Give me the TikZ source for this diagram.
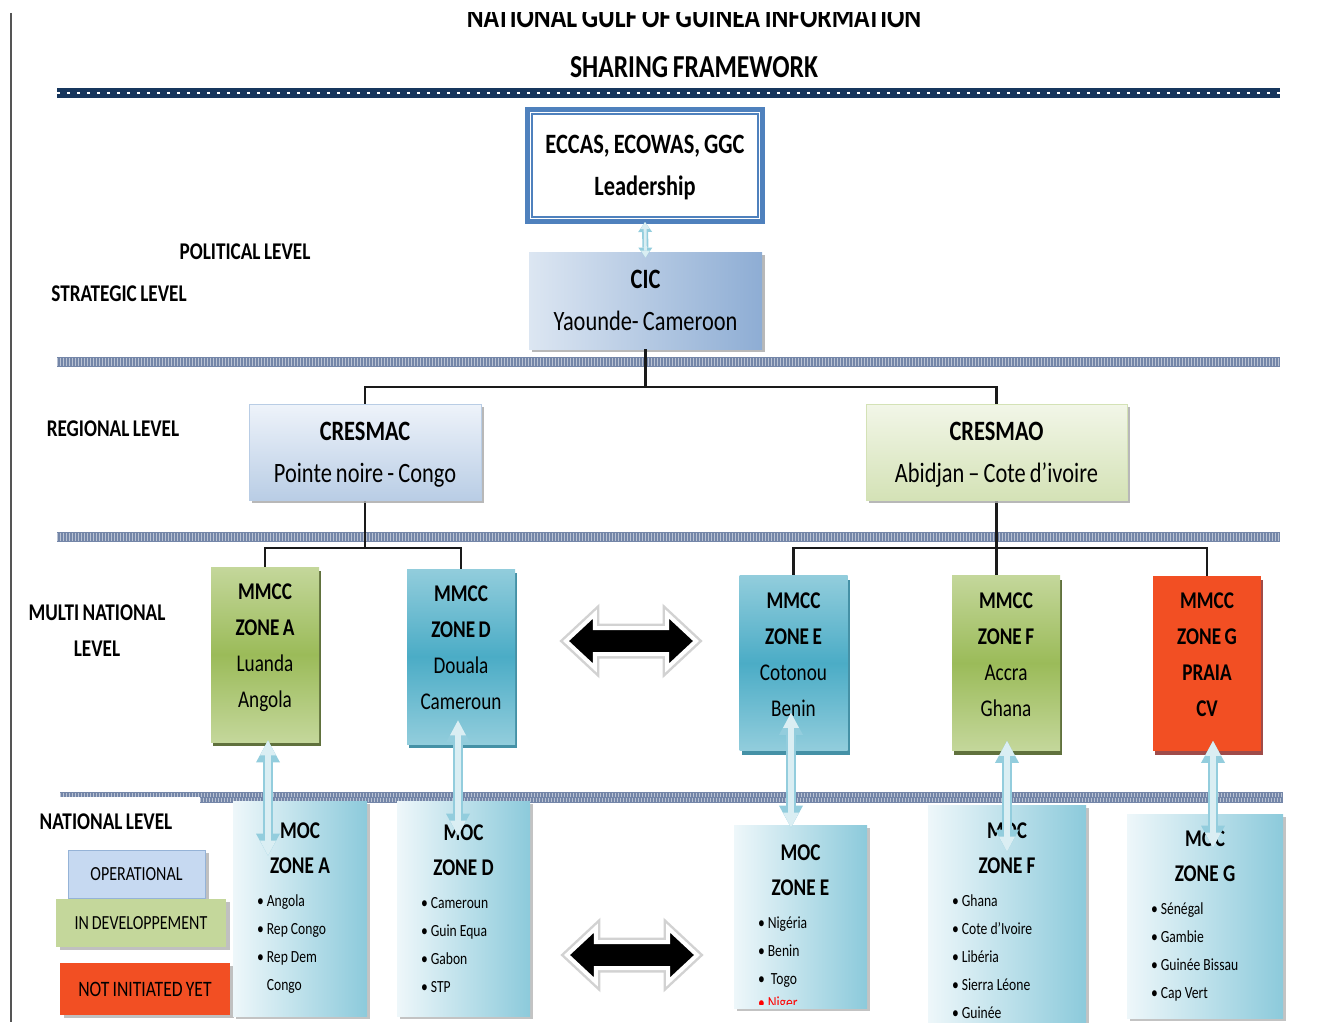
\documentclass[tikz,border=0pt]{standalone}
\usepackage{fontspec}
\setmainfont[FakeStretch=0.8, WordSpace=0.8]{Carlito}
\usetikzlibrary{arrows.meta, shapes.arrows, shadows, calc}
\definecolor{bandnavy}{HTML}{17365D}
\definecolor{bandgray}{HTML}{7486A8}
\definecolor{leadblue}{HTML}{4F81BD}
\definecolor{cicleft}{HTML}{DCE6F2}
\definecolor{cicright}{HTML}{8EADD4}
\definecolor{cresmactop}{HTML}{EEF3FA}
\definecolor{cresmacbot}{HTML}{B9CDE5}
\definecolor{cresmaotop}{HTML}{F2F6E8}
\definecolor{cresmaobot}{HTML}{D4E2B6}
\definecolor{greenlight}{HTML}{C4D79B}
\definecolor{greendark}{HTML}{9BBB59}
\definecolor{greenshadow}{HTML}{4F6228}
\definecolor{teallight}{HTML}{92CDDC}
\definecolor{tealdark}{HTML}{4BACC6}
\definecolor{tealshadow}{HTML}{31859C}
\definecolor{redzone}{HTML}{F24F23}
\definecolor{redshadow}{HTML}{953735}
\definecolor{mocleft}{HTML}{EEF7FA}
\definecolor{mocright}{HTML}{8CCADB}
\definecolor{opfill}{HTML}{C6D9F1}
\definecolor{opborder}{HTML}{95B3D7}
\definecolor{linkedge}{HTML}{93CDDD}
\definecolor{linkfill}{HTML}{DAEEF3}
\definecolor{treeline}{HTML}{1A1A1A}
\definecolor{frameline}{HTML}{555555}
\definecolor{nigerred}{HTML}{FF0000}
\newcommand{\mochead}{\fontsize{12}{17.5}\selectfont\bfseries\spaceskip=0.18em\relax}
\newcommand{\mocitem}{\fontsize{8.5}{14}\selectfont\mdseries\spaceskip=0.18em\relax}
\tikzset{
  levelname/.style={font=\fontsize{12}{18}\selectfont\bfseries, align=center},
  heading/.style={font=\fontsize{16}{20}\selectfont\bfseries},
  orgline/.style={draw=treeline, line width=1.1pt},
  shadowgray/.style={drop shadow={shadow xshift=1.5pt, shadow yshift=-1.5pt, fill=gray!65, opacity=.85}},
  leader/.style={rectangle, draw=leadblue, line width=2.5pt, fill=white, inner sep=0pt, text depth=0pt,
    minimum width=117.5pt, minimum height=56pt, align=center, font=\fontsize{14}{21}\selectfont\bfseries},
  leadinner/.style={draw=leadblue, line width=.8pt},
  centre/.style={rectangle, inner sep=0pt, text depth=0pt, align=center, font=\fontsize{14}{21}\selectfont, shadowgray},
  cicbox/.style={centre, left color=cicleft, right color=cicright, minimum width=116.5pt, minimum height=48.5pt},
  cresmacbox/.style={centre, top color=cresmactop, bottom color=cresmacbot, draw=cresmacbot, line width=.5pt,
    minimum width=116pt, minimum height=48pt},
  cresmaobox/.style={centre, top color=cresmaotop, bottom color=cresmaobot, draw=cresmaobot, line width=.5pt,
    minimum width=130.5pt, minimum height=48pt},
  mmcc/.style={rectangle, inner sep=0pt, text depth=8.5pt, align=center, font=\fontsize{12}{18}\selectfont,
    minimum width=54pt, minimum height=87.5pt},
  mmccgreen/.style={mmcc, top color=greenlight, bottom color=greenlight, middle color=greendark,
    drop shadow={shadow xshift=1pt, shadow yshift=-2pt, fill=greenshadow, opacity=.9}},
  mmccteal/.style={mmcc, top color=teallight, bottom color=teallight, middle color=tealdark,
    drop shadow={shadow xshift=1pt, shadow yshift=-2pt, fill=tealshadow, opacity=.9}},
  mmccred/.style={mmcc, fill=redzone,
    drop shadow={shadow xshift=1pt, shadow yshift=-2pt, fill=redshadow, opacity=.9}},
  mocbox/.style={rectangle, inner xsep=12pt, inner ysep=0pt, left color=mocleft, right color=mocright,
    drop shadow={shadow xshift=1.5pt, shadow yshift=-1.5pt, fill=gray!55, opacity=.85}},
  legendbox/.style={rectangle, inner sep=0pt, minimum height=24pt, font=\fontsize{10}{12}\selectfont,
    drop shadow={shadow xshift=2pt, shadow yshift=-1.5pt, fill=gray!55, opacity=.9}},
  exchange/.style={double arrow, inner xsep=0pt, inner ysep=5.5pt, fill=black, draw=white, line width=2pt,
    minimum height=65pt, minimum width=0pt, double arrow head extend=7pt, double arrow tip angle=86,
    preaction={draw=gray!35, line width=4.5pt}},
  updown/.style={draw=linkedge, line width=5pt, >={Triangle[width=12pt,length=11pt,line width=0pt]}, <->,
    postaction={draw=linkfill, line width=2.6pt, >={Triangle[width=8pt,length=7.5pt,line width=0pt]}, <->}},
  smallupdown/.style={draw=linkedge, line width=3pt, >={Triangle[width=7pt,length=5pt,line width=0pt]}, <->,
    postaction={draw=linkfill, line width=1.4pt, >={Triangle[width=4.5pt,length=3.5pt,line width=0pt]}, <->}}
}
\begin{document}
\begin{tikzpicture}[x=0.5pt, y=-0.5pt]
\useasboundingbox (0,0) rectangle (1320,1022);
\clip (0,13) rectangle (1320,1022);

% Frame and title.
\draw[frameline, line width=1pt] (11,13) -- (11,1022);
\node[heading, anchor=base] (title) at (694,28) {NATIONAL GULF OF GUINEA INFORMATION};
\node[heading, anchor=base] (subtitle) at (694,78) {SHARING FRAMEWORK};

% Level bands.
\fill[bandnavy] (57,88) rectangle (1280,98);
\draw[white, line width=1.2pt, dash pattern=on 1.5pt off 3.5pt] (57,93) -- (1280,93);
\foreach \y in {357,532} {
  \fill[bandgray] (57,\y) rectangle (1280,\y+10);
  \draw[white, opacity=.5, line width=4pt, dash pattern=on .5pt off 1pt] (57,\y+5) -- (1280,\y+5);
}
\fill[bandgray] (60,792) rectangle (1283,797);
\fill[bandgray] (200,797) rectangle (1283,803);
\draw[white, opacity=.5, line width=2pt, dash pattern=on .5pt off 1pt] (60,794.5) -- (1283,794.5);
\draw[white, opacity=.5, line width=2pt, dash pattern=on .5pt off 1pt] (200,800) -- (1283,800);

% Level names.
\node[levelname] (political) at (245,252) {POLITICAL LEVEL};
\node[levelname] (strategic) at (119,294) {STRATEGIC LEVEL};
\node[levelname] (regional) at (113,429) {REGIONAL LEVEL};
\node[levelname] (multinational) at (97,631) {MULTI NATIONAL\\LEVEL};
\node[levelname] (national) at (106,822) {NATIONAL LEVEL};

% Political and strategic level.
\node[leader] (lead) at (645,165.5) {ECCAS, ECOWAS, GGC\\Leadership};
\draw[leadinner] ([shift={(3.6pt,-3.6pt)}]lead.north west) rectangle ([shift={(-3.6pt,3.6pt)}]lead.south east);
\node[cicbox] (cic) at (645.5,300.5) {\textbf{CIC}\\Yaounde- Cameroon};
\draw[smallupdown] ([yshift=1pt]lead.south) -- ([yshift=-3pt]cic.north);

% Tree lines.
\coordinate (regbar) at (0,387);
\coordinate (zonebar) at (0,548);
\draw[orgline] (cic.south) -- (cic.south |- regbar);
\draw[orgline] (365,404) |- (996.5,387) -- (996.5,404);
\draw[orgline] (365,500) -- (365,548);
\draw[orgline] (265,567) |- (461,548) -- (461,569);
\draw[orgline] (996.5,500) -- (996.5,576);
\draw[orgline] (793.5,576) |- (1207,548) -- (1207,576);

% Regional level.
\node[cresmacbox] (cresmac) at (365,452) {\textbf{CRESMAC}\\Pointe noire - Congo};
\node[cresmaobox] (cresmao) at (996.5,452) {\textbf{CRESMAO}\\Abidjan – Cote d’ivoire};

% Multi national level.
\node[mmccgreen] (mmcca) at (265,654.5) {\textbf{MMCC}\\\textbf{ZONE A}\\Luanda\\Angola};
\node[mmccteal] (mmccd) at (461,656.5) {\textbf{MMCC}\\\textbf{ZONE D}\\Douala\\Cameroun};
\node[mmccteal] (mmcce) at (793.5,663) {\textbf{MMCC}\\\textbf{ZONE E}\\Cotonou\\Benin};
\node[mmccgreen] (mmccf) at (1006,663) {\textbf{MMCC}\\\textbf{ZONE F}\\Accra\\Ghana};
\node[mmccred] (mmccg) at (1207,663) {\textbf{MMCC}\\\textbf{ZONE G}\\\textbf{PRAIA}\\\textbf{CV}};
\node[exchange] (exchupper) at (631,641) {};

% Legend.
\node[legendbox, fill=opfill, draw=opborder, line width=.5pt, minimum width=68.5pt] (operational) at (136.5,874) {OPERATIONAL};
\node[legendbox, fill=greenlight, minimum width=85pt] (developing) at (141,923) {IN DEVELOPPEMENT};
\node[legendbox, fill=redzone, minimum width=85pt, minimum height=26pt, font=\fontsize{11}{13}\selectfont] (notinitiated) at (145,989) {NOT INITIATED YET};

% National level.
\node[mocbox, text width=43pt, minimum height=107.5pt] (moca) at (300,908.5)
  {{\centering\mochead MOC\par ZONE A\par}\vspace{2.5pt}\raggedright\mocitem
   \textbullet~Angola\par\textbullet~Rep Congo\par\textbullet~Rep Dem\par\phantom{\textbullet~}Congo\par};
\node[mocbox, text width=42.5pt, minimum height=107.5pt] (mocd) at (463.5,908.5)
  {{\centering\mochead MOC\par ZONE D\par}\vspace{2.5pt}\raggedright\mocitem
   \textbullet~Cameroun\par\textbullet~Guin Equa\par\textbullet~Gabon\par\textbullet~STP\par};
\node[mocbox, text width=42.5pt, minimum height=91.5pt] (moce) at (800.5,916.5)
  {{\centering\mochead MOC\par ZONE E\par}\vspace{2.5pt}\raggedright\mocitem
   \textbullet~Nigéria\par\textbullet~Benin\par\textbullet~~Togo\par};
\node[mocbox, text width=55pt, minimum height=116pt] (mocf) at (1007,921)
  {{\centering\mochead MOC\par ZONE F\par}\vspace{2.5pt}\raggedright\mocitem
   \textbullet~Ghana\par\textbullet~Cote d’Ivoire\par\textbullet~Libéria\par\textbullet~Sierra Léone\par\textbullet~Guinée\par};
\node[mocbox, text width=54pt, minimum height=102pt] (mocg) at (1205,916)
  {{\centering\mochead MOC\par ZONE G\par}\vspace{2.5pt}\raggedright\mocitem
   \textbullet~Sénégal\par\textbullet~Gambie\par\textbullet~Guinée Bissau\par\textbullet~Cap Vert\par};
\begin{scope}
  \clip (0,13) rectangle (1320,1004);
  \node[font=\mocitem, text=nigerred, anchor=base west, inner sep=0pt] (niger)
    at ($(moce.north west)+(12pt,-92pt)$) {\textbullet~Niger};
\end{scope}
\node[exchange] (exchlower) at (632,955) {};

% Links between multi national and national level.
\draw[updown] ($(mmcca.south)+(1.5pt,1pt)$) -- ($(mmcca.south |- moca.north)+(1.5pt,-27.5pt)$);
\draw[updown] ($(mmccd.south)+(-1.5pt,12pt)$) -- ($(mmccd.south |- mocd.north)+(-1.5pt,-17.5pt)$);
\draw[updown] ($(mmcce.south)+(-1.25pt,19pt)$) -- ($(mmcce.south |- moce.north)+(-1.25pt,-1.5pt)$);
\draw[updown] ($(mmccf.south)+(0.5pt,5pt)$) -- ($(mmccf.south |- mocf.north)+(0.5pt,-23.5pt)$);
\draw[updown] ($(mmccg.south)+(3pt,5pt)$) -- ($(mmccg.south |- mocg.north)+(3pt,-17pt)$);

\end{tikzpicture}
\end{document}
